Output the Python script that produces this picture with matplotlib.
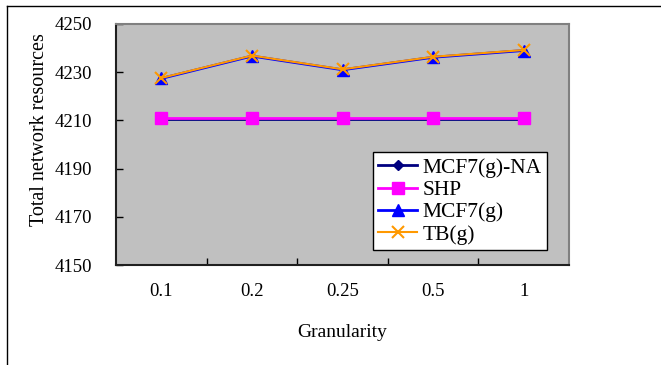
import matplotlib
matplotlib.use("Agg")
import matplotlib.pyplot as plt
from matplotlib.lines import Line2D
import numpy as np

categories = ["0.1", "0.2", "0.25", "0.5", "1"]
mcf7_na = [4210.5, 4210.5, 4210.5, 4210.5, 4210.5]
shp = [4211.2, 4211.2, 4211.2, 4211.2, 4211.2]
mcf7 = [4227.4, 4236.7, 4231.0, 4236.2, 4239.0]
tb = [4227.6, 4236.9, 4231.2, 4236.4, 4239.2]
yticks = [4150, 4170, 4190, 4210, 4230, 4250]

plt.rcParams['font.family'] = ['Liberation Serif', 'DejaVu Serif']

fig = plt.figure(figsize=(6.61, 3.65), dpi=100)
ax = fig.add_axes([116/661, 1-265/365, (569-116)/661, (265-24)/365])
ax.set_facecolor('#c0c0c0')
x = np.arange(len(categories))

ax.plot(x, mcf7_na, color='#000080', marker='D', markersize=5, lw=2, label='MCF7(g)-NA', zorder=3)
ax.plot(x, shp, color='#ff00ff', marker='s', markersize=9, lw=2, label='SHP', zorder=4)
ax.plot(x, mcf7, color='#0000ff', marker='^', markersize=8, lw=2, label='MCF7(g)', zorder=5)
ax.plot(x, tb, color='#ff9900', marker='x', markersize=8, mew=1.5, lw=1.5, label='TB(g)', zorder=6)

ax.set_xlim(-0.5, len(categories) - 0.5)
ax.set_ylim(4150, 4250)
ax.set_yticks(yticks)
ax.set_xticks(x)
ax.set_xticklabels(categories)
ax.set_xticks(np.arange(0.5, len(categories) - 0.5, 1), minor=True)
ax.tick_params(axis='x', which='major', length=0, pad=13, labelsize=13.5)
ax.tick_params(axis='x', which='minor', direction='in', length=5, width=1)
ax.tick_params(axis='y', direction='in', length=5, width=1, pad=17, labelsize=13.5)

for s in ['top', 'right']:
    ax.spines[s].set_color('#808080')
    ax.spines[s].set_linewidth(1.5)
for s in ['left', 'bottom']:
    ax.spines[s].set_color('#202020')
    ax.spines[s].set_linewidth(1.5)

ax.set_xlabel('Granularity', fontsize=14, labelpad=17)
ax.set_ylabel('Total network resources', fontsize=14.5)
ax.yaxis.set_label_coords(40/661, 1-130/365, transform=fig.transFigure)
ax.yaxis.label.set_va('center')

leg = ax.legend(loc='lower right', bbox_to_anchor=(547/661, 1-250/365), bbox_transform=fig.transFigure,
                fontsize=15.5, frameon=True, fancybox=False, edgecolor='black', facecolor='white',
                framealpha=1, handlelength=1.8, handletextpad=0.25, labelspacing=0.1, borderpad=0.25,
                borderaxespad=0)
leg.get_frame().set_linewidth(1)

fig.add_artist(Line2D([7/661, 1], [1-6/365, 1-6/365], color='black', lw=1, transform=fig.transFigure))
fig.add_artist(Line2D([7/661, 7/661], [0, 1-6/365], color='black', lw=1, transform=fig.transFigure))

fig.savefig('out.png', dpi=100)
